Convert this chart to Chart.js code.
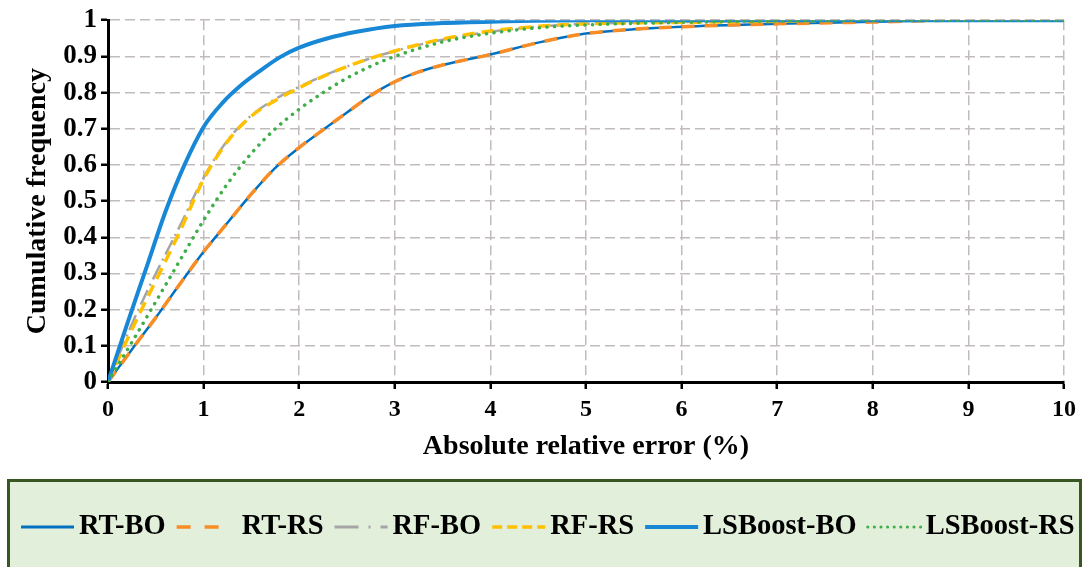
<!DOCTYPE html>
<html>
<head>
<meta charset="utf-8">
<script src="https://cdn.jsdelivr.net/npm/chart.js@4.4.1/dist/chart.umd.min.js"></script>
<style>
  html, body { margin: 0; padding: 0; background: #ffffff; }
  #wrap { width: 1090px; height: 567px; position: relative; }
</style>
</head>
<body>
<div id="wrap"><canvas id="c" width="1090" height="567"></canvas></div>
<script>
// ---- data ----
const xTickLabels = ['0','1','2','3','4','5','6','7','8','9','10'];
const yTickLabels = ['0','0.1','0.2','0.3','0.4','0.5','0.6','0.7','0.8','0.9','1'];

const rtBOx = [0,0.25,0.5,0.75,1.0,1.25,1.5,1.75,2.0,2.25,2.5,2.75,3.0,3.25,3.5,3.75,4.0,4.5,5.0,5.5,6.0,7.0,8.0,9.0,10];
const rtBOy = [0,0.09,0.178,0.27,0.36,0.44,0.52,0.592,0.648,0.697,0.745,0.792,0.83,0.857,0.876,0.891,0.905,0.938,0.963,0.975,0.982,0.99,0.996,1,1];

const rtRSx = [0,0.25,0.5,0.75,1.0,1.25,1.5,1.75,2.0,2.25,2.5,2.75,3.0,3.25,3.5,3.75,4.0,4.5,5.0,5.5,6.0,7.0,8.0,9.0,10];
const rtRSy = [0,0.09,0.178,0.27,0.36,0.44,0.52,0.592,0.648,0.697,0.745,0.792,0.83,0.857,0.876,0.891,0.905,0.938,0.963,0.975,0.982,0.99,0.995,1,1];

const rfBOx = [0,0.25,0.5,0.75,1.0,1.25,1.5,1.75,2.0,2.25,2.5,2.75,3.0,3.5,4.0,4.5,5.0,6.0,7.0,8.0,10];
const rfBOy = [0,0.16,0.3,0.43,0.565,0.668,0.737,0.782,0.816,0.846,0.872,0.895,0.915,0.946,0.968,0.982,0.99,0.995,0.998,1,1];

const rfRSx = [0,0.25,0.5,0.75,1.0,1.25,1.5,1.75,2.0,2.25,2.5,2.75,3.0,3.5,4.0,4.5,5.0,6.0,7.0,8.0,10];
const rfRSy = [0,0.145,0.28,0.415,0.56,0.665,0.735,0.778,0.813,0.845,0.872,0.895,0.915,0.948,0.97,0.983,0.99,0.994,0.997,1,1];

const lsBOx = [0,0.2,0.4,0.6,0.8,1.0,1.2,1.4,1.6,1.8,2.0,2.3,2.6,3.0,3.5,4.0,5.0,10];
const lsBOy = [0,0.16,0.315,0.47,0.6,0.705,0.772,0.822,0.862,0.898,0.924,0.95,0.968,0.984,0.992,0.996,1,1];

const lsRSx = [0,0.25,0.5,0.75,1.0,1.25,1.5,1.75,2.0,2.25,2.5,2.75,3.0,3.5,4.0,4.5,5.0,6.0,7.0,8.0,10];
const lsRSy = [0,0.11,0.222,0.335,0.447,0.548,0.632,0.7,0.754,0.8,0.84,0.873,0.9,0.94,0.964,0.979,0.987,0.994,0.998,1,1];

const seriesNames = ['RT-BO','RT-RS','RF-BO','RF-RS','LSBoost-BO','LSBoost-RS'];

function pts(xs, ys) { return xs.map((x, i) => ({x: x, y: ys[i]})); }

const SERIF = "'Liberation Serif', 'Times New Roman', serif";

// Legend panel (green box with line samples and labels), drawn on the chart canvas
const legendPanel = {
  id: 'legendPanel',
  beforeDraw(chart) {
    const ctx = chart.ctx;
    ctx.save();
    ctx.fillStyle = '#e2efda';
    ctx.fillRect(8, 480, 1073, 100);
    ctx.strokeStyle = '#385723';
    ctx.lineWidth = 3;
    ctx.strokeRect(8.5, 480.5, 1072, 100);
    ctx.restore();
  },
  afterDraw(chart) {
    const ctx = chart.ctx;
    const cy = 527;
    const sampleW = 53, gapAfterSample = 5, gapAfterText = 11;
    ctx.save();
    ctx.font = "bold 28.5px " + SERIF;
    ctx.textBaseline = 'middle';
    ctx.textAlign = 'left';
    let x = 21;
    chart.data.datasets.forEach((ds) => {
      ctx.save();
      ctx.strokeStyle = ds.borderColor;
      ctx.lineWidth = ds.legendWidth;
      ctx.lineCap = ds.borderCapStyle || 'butt';
      ctx.setLineDash(ds.legendDash || []);
      ctx.beginPath();
      ctx.moveTo(x, cy);
      ctx.lineTo(x + sampleW, cy);
      ctx.stroke();
      ctx.restore();
      const tx = x + sampleW + gapAfterSample + (ds.legendLead || 0);
      ctx.fillStyle = '#000';
      ctx.fillText(ds.label, tx, cy);
      x = tx + ctx.measureText(ds.label).width + gapAfterText;
    });
    ctx.restore();
  }
};

const common = { pointRadius: 0, pointHoverRadius: 0, fill: false, cubicInterpolationMode: 'monotone' };

new Chart(document.getElementById('c'), {
  type: 'line',
  data: {
    datasets: [
      Object.assign({ label: seriesNames[0], data: pts(rtBOx, rtBOy), borderColor: '#0070c0', borderWidth: 2.5, order: 5,
        legendWidth: 3, legendDash: [] }, common),
      Object.assign({ label: seriesNames[1], data: pts(rtRSx, rtRSy), borderColor: '#f98d25', borderWidth: 3.5, borderDash: [13, 10], order: 4,
        legendWidth: 3.5, legendDash: [14, 14], legendLead: 7 }, common),
      Object.assign({ label: seriesNames[2], data: pts(rfBOx, rfBOy), borderColor: '#a5a5a5', borderWidth: 2.5, borderDash: [16, 5, 2, 5], order: 3,
        legendWidth: 3, legendDash: [24, 10, 2, 10] }, common),
      Object.assign({ label: seriesNames[3], data: pts(rfRSx, rfRSy), borderColor: '#ffc000', borderWidth: 3.5, borderDash: [12, 7], order: 2,
        legendWidth: 3.5, legendDash: [10, 5] }, common),
      Object.assign({ label: seriesNames[4], data: pts(lsBOx, lsBOy), borderColor: '#1888d6', borderWidth: 4, order: 1,
        legendWidth: 4, legendDash: [] }, common),
      Object.assign({ label: seriesNames[5], data: pts(lsRSx, lsRSy), borderColor: '#3fae49', borderWidth: 3.5, borderDash: [0.1, 7.5], borderCapStyle: 'round', order: 0,
        legendWidth: 3, legendDash: [0.1, 6.5] }, common)
    ]
  },
  options: {
    responsive: false,
    animation: false,
    devicePixelRatio: 1,
    layout: { padding: { left: 0, right: 26, top: 19, bottom: 55 } },
    plugins: {
      tooltip: { enabled: false },
      legend: { display: false }
    },
    scales: {
      x: {
        type: 'linear',
        min: 0, max: 10,
        afterFit(s) { s.height = 130; },
        ticks: {
          stepSize: 1,
          color: '#000',
          padding: 6,
          font: { family: SERIF, size: 24, weight: 'bold' },
          callback: (v, i) => xTickLabels[i]
        },
        grid: {
          color: '#c2bbbb', lineWidth: 1.5,
          tickColor: '#000', tickWidth: 2.5, tickLength: 7, tickBorderDash: []
        },
        border: { color: '#000', width: 3, dash: [10, 5] },
        title: {
          display: true,
          text: 'Absolute relative error (%)',
          color: '#000',
          font: { family: SERIF, size: 28, weight: 'bold' },
          padding: { top: 0, bottom: 48 }
        }
      },
      y: {
        min: 0, max: 1,
        afterFit(s) { s.width = 108; },
        ticks: {
          stepSize: 0.1,
          color: '#000',
          padding: 4,
          font: { family: SERIF, size: 27, weight: 'bold' },
          callback: (v, i) => yTickLabels[i]
        },
        grid: {
          color: '#c2bbbb', lineWidth: 1.5,
          tickColor: '#000', tickWidth: 2.5, tickLength: 7, tickBorderDash: []
        },
        border: { color: '#000', width: 3, dash: [10, 5] },
        title: {
          display: true,
          text: 'Cumulative frequency',
          color: '#000',
          font: { family: SERIF, size: 28, weight: 'bold' },
          padding: { top: 21, bottom: 0 }
        }
      }
    }
  },
  plugins: [legendPanel]
});
</script>
</body>
</html>
